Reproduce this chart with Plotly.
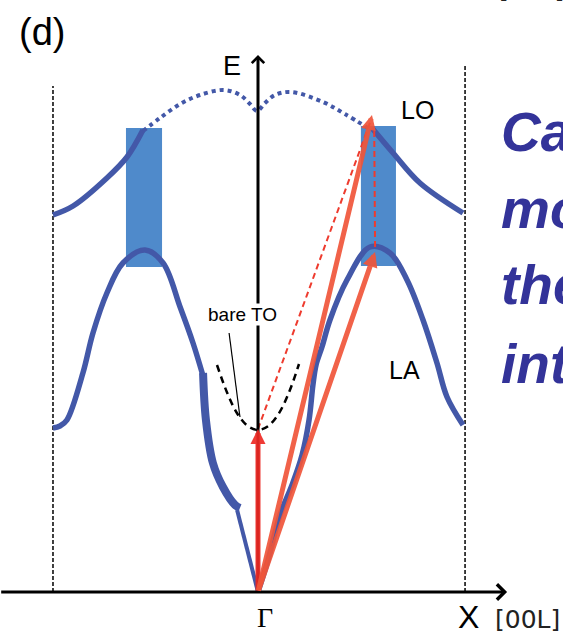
import plotly.graph_objects as go

# ---- data (q: reduced wavevector, Gamma = 0, X = +/-1 ; E: energy, arb. units) ----
lo_left_q = [-1.0, -0.902, -0.737, -0.639, -0.561]
lo_left_E = [3.77, 3.86, 4.14, 4.35, 4.62]

lo_dot_q = [-0.561, -0.478, -0.380, -0.283, -0.166, -0.088, -0.039, -0.005,
            0.034, 0.083, 0.161, 0.317, 0.424, 0.537]
lo_dot_E = [4.61, 4.74, 4.88, 4.97, 5.02, 4.97, 4.88, 4.81,
            4.89, 4.97, 5.00, 4.90, 4.78, 4.64]

lo_right_q = [0.556, 0.659, 0.790, 1.0]
lo_right_E = [4.64, 4.39, 4.09, 3.79]

la_left_q = [-1.0, -0.966, -0.932, -0.854, -0.805, -0.737, -0.659, -0.551,
             -0.463, -0.380, -0.317, -0.268]
la_left_E = [1.64, 1.66, 1.72, 2.19, 2.59, 2.99, 3.29, 3.42,
             3.29, 2.85, 2.49, 2.16]

ta_thick_q = [-0.268, -0.254, -0.220, -0.171, -0.112, -0.088]
ta_thick_E = [2.19, 1.72, 1.29, 1.05, 0.87, 0.84]

ta_thin_q = [-0.102, 0.0]
ta_thin_E = [0.82, 0.0]

la_right_q = [0.0, 0.049, 0.107, 0.166, 0.215, 0.249, 0.268, 0.283, 0.312,
              0.351, 0.434, 0.546, 0.644, 0.727, 0.805, 0.873, 0.922, 1.0]
la_right_E = [0.0, 0.32, 0.77, 1.07, 1.37, 1.72, 2.07, 2.27, 2.45,
              2.72, 3.12, 3.45, 3.39, 3.12, 2.72, 2.29, 1.95, 1.67]

bare_to_q = [-0.20, -0.15, -0.10, -0.05, 0.0, 0.05, 0.10, 0.15, 0.20]
bare_to_E = [2.27, 1.99, 1.78, 1.66, 1.62, 1.66, 1.78, 1.99, 2.28]

pointer_q = [-0.141, -0.088]
pointer_E = [2.59, 1.75]

# broadened regions (q0, q1, E0, E1)
boxes = [(-0.644, -0.468, 3.25, 4.64), (0.502, 0.673, 3.26, 4.66)]

# zone boundary lines: (q, E_top)
zone_lines = [(-1.0, 5.06), (1.01, 5.26)]

# red arrows
gamma_q, gamma_E = 0.0, 0.0
arrow_tips_q = [0.0, 0.556, 0.571]
arrow_tips_E = [1.63, 4.77, 3.40]
arrow_colors = ["#EE2A24", "#F0553A", "#F0553A"]

dash1_q = [0.0, 0.551]
dash1_E = [1.63, 4.72]
dash2_q = [0.571, 0.567]
dash2_E = [3.45, 4.62]

E_axis_top = 5.37
k_axis_left, k_axis_right = -1.26, 1.215

side_words = ["Ca", "mo", "the", "int"]
side_word_E = [4.60, 3.83, 3.07, 2.28]

BLUE = "#4358A8"
BOX = "#4F8ACB"

fig = go.Figure()

for (q0, q1, e0, e1) in boxes:
    fig.add_shape(type="rect", xref="x", yref="y", x0=q0, x1=q1, y0=e0, y1=e1,
                  fillcolor=BOX, line_width=0, layer="below")

for (q, et) in zone_lines:
    fig.add_trace(go.Scatter(x=[q, q], y=[0, et], mode="lines",
                             line=dict(color="black", width=1.5, dash="4px,2px")))

def curve(xs, ys, width, dash=None, color=BLUE, shape="spline"):
    fig.add_trace(go.Scatter(x=xs, y=ys, mode="lines",
                             line=dict(color=color, width=width, dash=dash,
                                       shape=shape, smoothing=1.0)))

curve(lo_left_q, lo_left_E, 5.5)
curve(lo_dot_q, lo_dot_E, 4, dash="4px,4px")
curve(lo_right_q, lo_right_E, 5.5)
curve(la_left_q, la_left_E, 5.5)
curve(ta_thick_q, ta_thick_E, 8)
curve(ta_thin_q, ta_thin_E, 4, shape="linear")
curve(la_right_q, la_right_E, 5.5)
curve(bare_to_q, bare_to_E, 2.5, dash="7px,5px", color="black")
curve(pointer_q, pointer_E, 1.2, color="black", shape="linear")
curve(dash1_q, dash1_E, 2, dash="6px,4px", color="#EE3B2E", shape="linear")
curve(dash2_q, dash2_E, 2, dash="6px,4px", color="#EE3B2E", shape="linear")

ann = []
# axes
ann.append(dict(x=gamma_q, y=E_axis_top, ax=gamma_q, ay=gamma_E, xref="x", yref="y",
                axref="x", ayref="y", text="", showarrow=True, arrowhead=4,
                arrowsize=0.8, arrowwidth=3, arrowcolor="black", standoff=0))
ann.append(dict(x=k_axis_right, y=0, ax=k_axis_left, ay=0, xref="x", yref="y",
                axref="x", ayref="y", text="", showarrow=True, arrowhead=4,
                arrowsize=1.0, arrowwidth=3, arrowcolor="black", standoff=0))
# red arrows
for qt, et, col in zip(arrow_tips_q, arrow_tips_E, arrow_colors):
    ann.append(dict(x=qt, y=et, ax=gamma_q, ay=gamma_E, xref="x", yref="y",
                    axref="x", ayref="y", text="", showarrow=True, arrowhead=2,
                    arrowsize=0.6, arrowwidth=5, arrowcolor=col, standoff=0,
                    opacity=0.92))

SANS = "Liberation Sans, Arial, sans-serif"
def label(q, e, txt, size, color="black", family=SANS, xanchor="center", bg=None,
          yanchor="middle"):
    d = dict(x=q, y=e, xref="x", yref="y", text=txt, showarrow=False,
             font=dict(size=size, color=color, family=family),
             xanchor=xanchor, yanchor=yanchor)
    if bg:
        d["bgcolor"] = bg
        d["borderpad"] = 0
    ann.append(d)

label(-1.054, 5.60, "(d)", 38)
label(-0.127, 5.26, "E", 27)
label(0.776, 4.82, "LO", 25)
label(0.717, 2.22, "LA", 25)
label(-0.078, 2.78, "bare TO", 19, bg="white")
label(0.034, -0.25, "Γ", 28, family="Liberation Serif, Times New Roman, serif")
label(1.029, -0.25, "X", 32)
label(1.317, -0.27, "[00L]", 25, color="#222222", family="DejaVu Sans, sans-serif")

for txt, e in zip(side_words, side_word_E):
    ann.append(dict(x=1.178, y=e, xref="x", yref="y", text="<b><i>" + txt + "</i></b>",
                    showarrow=False, xanchor="left", yanchor="middle",
                    font=dict(size=55, color="#333399", family=SANS)))

# partially visible label at the top edge
ann.append(dict(x=0.883, y=1 - 6 / 636, xref="paper", yref="paper", text="[00L]",
                showarrow=False, xanchor="left", yanchor="bottom",
                font=dict(size=25, color="#222222", family="DejaVu Sans, sans-serif")))

fig.update_layout(
    width=563, height=636, margin=dict(l=0, r=0, t=0, b=0),
    paper_bgcolor="white", plot_bgcolor="white", showlegend=False,
    xaxis=dict(visible=False, range=[-1.2585, 1.4878], fixedrange=True),
    yaxis=dict(visible=False, range=[-0.44, 5.92], fixedrange=True),
    annotations=ann,
)

fig.write_html("out.html",
               config={"displayModeBar": False, "staticPlot": True},
               post_script="document.body.style.margin='0';"
                           "document.body.style.overflow='hidden';")
